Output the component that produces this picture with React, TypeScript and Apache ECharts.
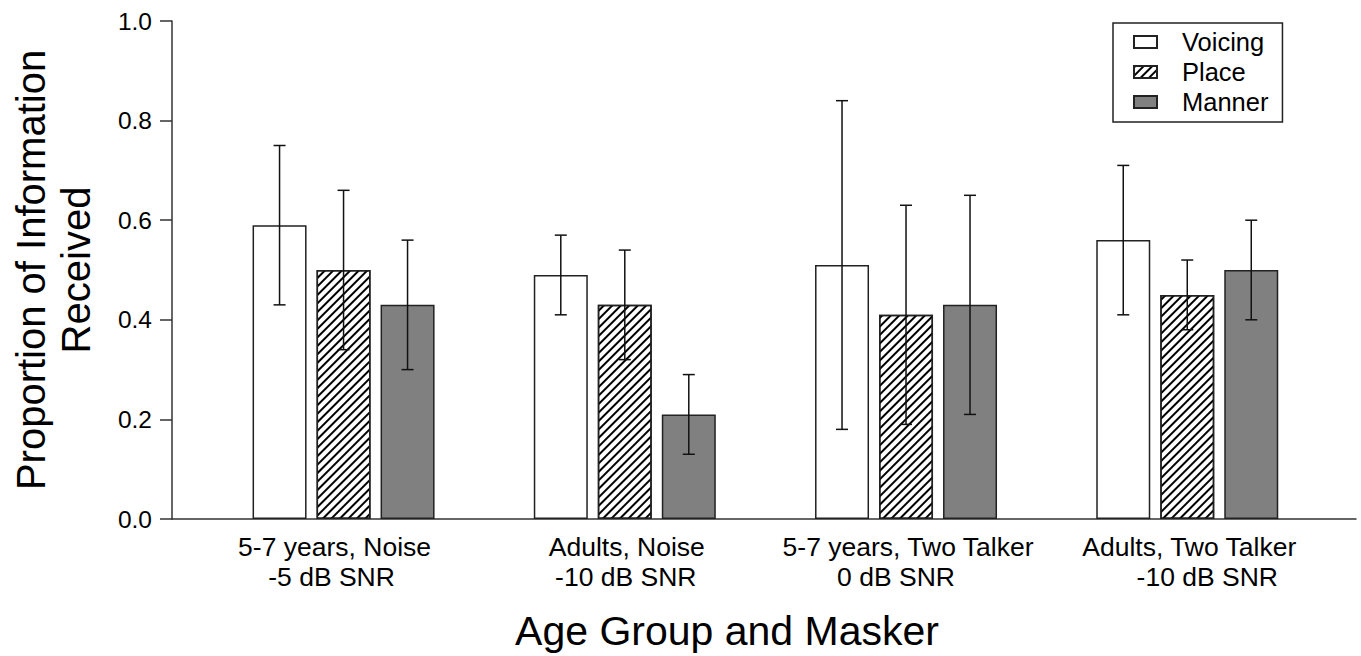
import React, { useEffect, useRef } from "react";
import * as echarts from "echarts";

// ---- data ----
const groupLine1 = ["5-7 years, Noise", "Adults, Noise", "5-7 years, Two Talker", "Adults, Two Talker"];
const groupLine2 = ["-5 dB SNR", "-10 dB SNR", "0 dB SNR", "-10 dB SNR"];
const groupPositions = [1, 2, 3, 4];
const seriesNames = ["Voicing", "Place", "Manner"];
const voicing = [0.59, 0.49, 0.51, 0.56];
const place = [0.5, 0.43, 0.41, 0.45];
const manner = [0.43, 0.21, 0.43, 0.5];
const voicingLow = [0.43, 0.41, 0.18, 0.41];
const voicingHigh = [0.75, 0.57, 0.84, 0.71];
const placeLow = [0.34, 0.32, 0.19, 0.38];
const placeHigh = [0.66, 0.54, 0.63, 0.52];
const mannerLow = [0.3, 0.13, 0.21, 0.4];
const mannerHigh = [0.56, 0.29, 0.65, 0.6];
const yTickValues = [0, 0.2, 0.4, 0.6, 0.8, 1.0];

// ---- styles ----
const FONT = "'Liberation Sans', Arial, Helvetica, sans-serif";
const BAR_W = 54;
const BAR_GAP = 10;
const CAP_W = 12;
const AXIS_COLOR = "#333";
const labelShift1 = [-9, 2, 2, 2];
const labelShift2 = [-12, 1, -10, 20];

const hatchDecal = {
  symbol: "rect",
  symbolSize: 1,
  color: "#000",
  backgroundColor: "#fff",
  dashArrayX: [1, 0],
  dashArrayY: [1.2, 3.4],
  rotation: -Math.PI / 4,
};

const barStyles = [
  { color: "#ffffff", borderColor: "#222", borderWidth: 1.5 },
  { color: "#ffffff", borderColor: "#222", borderWidth: 1.5, decal: hatchDecal },
  { color: "#808080", borderColor: "#222", borderWidth: 1.5 },
];

function shiftPad(s: number) {
  return s >= 0 ? [0, 0, 0, 2 * s] : [0, -2 * s, 0, 0];
}

export default function App() {
  const ref = useRef<HTMLDivElement>(null);
  useEffect(() => {
    if (!ref.current) return;
    const chart = echarts.init(ref.current, null, { renderer: "svg" });
    const values = [voicing, place, manner];
    const lows = [voicingLow, placeLow, mannerLow];
    const highs = [voicingHigh, placeHigh, mannerHigh];

    const rich: any = {};
    groupPositions.forEach((_, i) => {
      rich["a" + i] = { fontSize: 26.5, lineHeight: 30, fontFamily: FONT, color: "#000", padding: shiftPad(labelShift1[i]) };
      rich["b" + i] = { fontSize: 26.5, lineHeight: 30, fontFamily: FONT, color: "#000", padding: shiftPad(labelShift2[i]) };
    });

    const barSeries = seriesNames.map((name, s) => ({
      type: "bar",
      name,
      data: groupPositions.map((x, i) => [x, values[s][i]]),
      barWidth: BAR_W,
      barGap: (BAR_GAP / BAR_W) * 100 + "%",
      itemStyle: barStyles[s],
      emphasis: { disabled: true },
      z: 2,
    }));

    const errSeries = seriesNames.map((name, s) => ({
      type: "custom",
      name: name + " error",
      data: groupPositions.map((x, i) => [x, lows[s][i], highs[s][i]]),
      encode: { x: 0, y: [1, 2] },
      z: 5,
      renderItem: (params: any, api: any) => {
        const x = api.value(0);
        const lo = api.coord([x, api.value(1)]);
        const hi = api.coord([x, api.value(2)]);
        const px = lo[0] + (s - 1) * (BAR_W + BAR_GAP);
        const style = { stroke: "#111", lineWidth: 1.5 };
        return {
          type: "group",
          children: [
            { type: "line", shape: { x1: px, y1: lo[1], x2: px, y2: hi[1] }, style },
            { type: "line", shape: { x1: px - CAP_W / 2, y1: hi[1], x2: px + CAP_W / 2, y2: hi[1] }, style },
            { type: "line", shape: { x1: px - CAP_W / 2, y1: lo[1], x2: px + CAP_W / 2, y2: lo[1] }, style },
          ],
        };
      },
    }));

    chart.setOption({
      animation: false,
      backgroundColor: "#fff",
      textStyle: { fontFamily: FONT },
      grid: { left: 169, right: 5, top: 21, bottom: 135 },
      legend: {
        data: seriesNames,
        orient: "vertical",
        left: 1113,
        top: 23,
        width: 168,
        padding: [6, 14, 7, 20],
        itemGap: 4,
        itemWidth: 23,
        itemHeight: 12,
        icon: "rect",
        borderColor: "#222",
        borderWidth: 1.5,
        backgroundColor: "#fff",
        selectedMode: false,
        textStyle: { fontSize: 25.5, fontFamily: FONT, color: "#000", padding: [0, 0, 0, 20] },
      },
      xAxis: {
        type: "value",
        min: 0.39,
        max: 4.6,
        name: "Age Group and Masker",
        nameLocation: "middle",
        nameGap: 91,
        nameTextStyle: { fontSize: 41, fontFamily: FONT, color: "#000", padding: [0, 74, 0, 0] },
        axisLine: { show: true, onZero: false, lineStyle: { color: AXIS_COLOR, width: 1.5 } },
        axisTick: { show: false },
        splitLine: { show: false },
        axisLabel: {
          customValues: groupPositions,
          margin: 13,
          formatter: (v: number) => {
            const i = groupPositions.indexOf(Math.round(v));
            if (i < 0) return "";
            return `{a${i}|${groupLine1[i]}}\n{b${i}|${groupLine2[i]}}`;
          },
          rich,
        },
      },
      yAxis: {
        type: "value",
        min: 0,
        max: 1,
        interval: 0.2,
        name: "Proportion of Information\nReceived",
        nameLocation: "middle",
        nameGap: 74,
        nameTextStyle: { fontSize: 40, lineHeight: 45, fontFamily: FONT, color: "#000" },
        axisLine: { show: true, onZero: false, lineStyle: { color: AXIS_COLOR, width: 1.5 } },
        axisTick: { show: true, length: 12, inside: false, lineStyle: { color: AXIS_COLOR, width: 1.5 }, customValues: yTickValues },
        splitLine: { show: false },
        axisLabel: {
          fontSize: 24.5,
          color: "#000",
          margin: 20,
          fontFamily: FONT,
          customValues: yTickValues,
          formatter: (v: number) => v.toFixed(1),
        },
      },
      series: [...barSeries, ...errSeries],
    });
    return () => chart.dispose();
  }, []);
  return <div ref={ref} style={{ position: "fixed", left: 0, top: 0, width: 1361, height: 656 }} />;
}
